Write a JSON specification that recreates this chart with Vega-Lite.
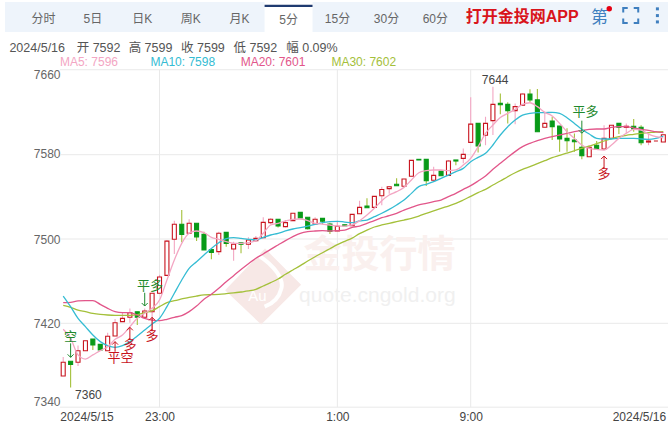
{"$schema":"https://vega.github.io/schema/vega-lite/v6.json","autosize":{"type":"fit","contains":"padding"},"width":669,"height":423,"padding":0,"background":"#ffffff","config":{"view":{"stroke":null},"font":"Liberation Sans, Noto Sans CJK SC","text":{"font":"Liberation Sans, Noto Sans CJK SC"}},
"datasets":{"k":[
{"i":0,"o":7370,"c":7383,"h":7388,"l":7370,"d":"u","m5":7414.3,"m10":7445.9,"m20":7439.6,"m30":7437.1},
{"i":1,"o":7384,"c":7381,"h":7384,"l":7359,"d":"d","m5":7405.8,"m10":7435.8,"m20":7439.9,"m30":7435.2},
{"i":2,"o":7383,"c":7394,"h":7399,"l":7379.5,"d":"u","m5":7390,"m10":7424.7,"m20":7441.2,"m30":7432.6},
{"i":3,"o":7394,"c":7403.5,"h":7403.5,"l":7394,"d":"u","m5":7386.1,"m10":7416.8,"m20":7441.5,"m30":7431.1},
{"i":4,"o":7405,"c":7399.4,"h":7405,"l":7394.7,"d":"d","m5":7390,"m10":7408.9,"m20":7441.5,"m30":7429.5},
{"i":5,"o":7400,"c":7394.7,"h":7400,"l":7394,"d":"d","m5":7394.1,"m10":7402.6,"m20":7438,"m30":7428.5},
{"i":6,"o":7394,"c":7407.7,"h":7411,"l":7394,"d":"u","m5":7397.8,"m10":7398.8,"m20":7434.2,"m30":7427.9},
{"i":7,"o":7408,"c":7420.6,"h":7424,"l":7408,"d":"u","m5":7404.8,"m10":7397.2,"m20":7431.1,"m30":7427.6},
{"i":8,"o":7421.6,"c":7424.7,"h":7430,"l":7421.6,"d":"u","m5":7408.9,"m10":7398.8,"m20":7430.1,"m30":7427.6},
{"i":9,"o":7425.7,"c":7430,"h":7434,"l":7420.6,"d":"u","m5":7416.8,"m10":7402.6,"m20":7430.1,"m30":7427.6},
{"i":10,"o":7431,"c":7425.7,"h":7431,"l":7418.4,"d":"d","m5":7424.7,"m10":7408,"m20":7427.9,"m30":7428.2},
{"i":11,"o":7425.7,"c":7431.7,"h":7434,"l":7424.7,"d":"u","m5":7429.5,"m10":7413.7,"m20":7424.7,"m30":7430.1},
{"i":12,"o":7431,"c":7448.5,"h":7448.5,"l":7412,"d":"u","m5":7434.2,"m10":7419.4,"m20":7423.1,"m30":7432},
{"i":13,"o":7448.5,"c":7464,"h":7466,"l":7448.5,"d":"u","m5":7442.1,"m10":7424.7,"m20":7422.5,"m30":7435.8},
{"i":14,"o":7465.5,"c":7498,"h":7499,"l":7465.5,"d":"u","m5":7461.1,"m10":7435.8,"m20":7423.8,"m30":7439.6},
{"i":15,"o":7499.7,"c":7514,"h":7517.4,"l":7485.8,"d":"u","m5":7480.1,"m10":7448.5,"m20":7425.7,"m30":7441.5},
{"i":16,"o":7514,"c":7504.4,"h":7527.5,"l":7497,"d":"d","m5":7495.9,"m10":7461.1,"m20":7427.3,"m30":7443.1},
{"i":17,"o":7505.4,"c":7515,"h":7518.7,"l":7505.4,"d":"u","m5":7505.4,"m10":7472.2,"m20":7431.1,"m30":7444.7},
{"i":18,"o":7515,"c":7502,"h":7515,"l":7498,"d":"d","m5":7507.6,"m10":7478.5,"m20":7436.4,"m30":7445.9},
{"i":19,"o":7504.4,"c":7489.6,"h":7507,"l":7489.6,"d":"d","m5":7506,"m10":7484.8,"m20":7442.8,"m30":7446.9},
{"i":20,"o":7490,"c":7487.3,"h":7490,"l":7480.7,"d":"d","m5":7501.6,"m10":7491.1,"m20":7447.5,"m30":7447.2},
{"i":21,"o":7488,"c":7505.4,"h":7507,"l":7484.8,"d":"u","m5":7499.7,"m10":7496.5,"m20":7453.2,"m30":7447.5},
{"i":22,"o":7506.3,"c":7495.9,"h":7506.3,"l":7492.7,"d":"d","m5":7497.5,"m10":7500.3,"m20":7459.5,"m30":7448.1},
{"i":23,"o":7490.5,"c":7495,"h":7497.5,"l":7479.4,"d":"u","m5":7495.9,"m10":7501.3,"m20":7465.2,"m30":7448.8},
{"i":24,"o":7496.5,"c":7495,"h":7496.5,"l":7486.4,"d":"d","m5":7495.9,"m10":7500.6,"m20":7471,"m30":7449.7},
{"i":25,"o":7495,"c":7499,"h":7501.6,"l":7490.5,"d":"u","m5":7496.5,"m10":7499.7,"m20":7476.5,"m30":7450.7},
{"i":26,"o":7498.4,"c":7500.6,"h":7502.8,"l":7497.5,"d":"u","m5":7498.4,"m10":7499.1,"m20":7481.7,"m30":7452.2},
{"i":27,"o":7501.3,"c":7515.8,"h":7520.6,"l":7500.6,"d":"u","m5":7505.4,"m10":7501.6,"m20":7485.8,"m30":7455.4},
{"i":28,"o":7515.5,"c":7518.7,"h":7519.6,"l":7514,"d":"u","m5":7513.3,"m10":7503.8,"m20":7490.2,"m30":7458.6},
{"i":29,"o":7518.7,"c":7512.3,"h":7518.7,"l":7511,"d":"d","m5":7514.9,"m10":7505.4,"m20":7494.3,"m30":7462},
{"i":30,"o":7511.7,"c":7515.5,"h":7518,"l":7511,"d":"u","m5":7517.1,"m10":7507.6,"m20":7498.4,"m30":7466.5},
{"i":31,"o":7517.4,"c":7524.4,"h":7524.4,"l":7517.4,"d":"u","m5":7518.7,"m10":7509.5,"m20":7502.2,"m30":7470.6},
{"i":32,"o":7525.3,"c":7520,"h":7525.3,"l":7520,"d":"d","m5":7519,"m10":7510.8,"m20":7505.4,"m30":7474.7},
{"i":33,"o":7520.6,"c":7509.8,"h":7520.6,"l":7509,"d":"d","m5":7517.4,"m10":7512.3,"m20":7507,"m30":7479.1},
{"i":34,"o":7514.2,"c":7518.7,"h":7520.6,"l":7514.2,"d":"u","m5":7514.9,"m10":7513.9,"m20":7507.6,"m30":7483.2},
{"i":35,"o":7519.6,"c":7516.8,"h":7519.6,"l":7514,"d":"d","m5":7514.2,"m10":7515.5,"m20":7507.9,"m30":7487},
{"i":36,"o":7514.2,"c":7507.3,"h":7515.5,"l":7504.7,"d":"d","m5":7513.3,"m10":7516.4,"m20":7507.6,"m30":7490.8},
{"i":37,"o":7507.6,"c":7512,"h":7517.4,"l":7507.6,"d":"u","m5":7512.3,"m10":7516.8,"m20":7507.9,"m30":7494.6},
{"i":38,"o":7513.5,"c":7512.5,"h":7513.5,"l":7512.5,"d":"d","m5":7512.3,"m10":7516.1,"m20":7508.5,"m30":7497.8},
{"i":39,"o":7512.6,"c":7523.4,"h":7523.4,"l":7512.6,"d":"u","m5":7513.3,"m10":7515.5,"m20":7511,"m30":7500.9},
{"i":40,"o":7524,"c":7530,"h":7536.4,"l":7524,"d":"u","m5":7517.4,"m10":7517.1,"m20":7512.3,"m30":7505.1},
{"i":41,"o":7531.3,"c":7529.7,"h":7538.6,"l":7529.7,"d":"d","m5":7522.8,"m10":7518,"m20":7514.9,"m30":7508.5},
{"i":42,"o":7530,"c":7540.5,"h":7540.5,"l":7530,"d":"u","m5":7529.1,"m10":7521.2,"m20":7517.4,"m30":7511.4},
{"i":43,"o":7541,"c":7547,"h":7549.6,"l":7532,"d":"u","m5":7536.4,"m10":7524.4,"m20":7520.2,"m30":7513.3},
{"i":44,"o":7547.8,"c":7549.6,"h":7550,"l":7543,"d":"u","m5":7541.7,"m10":7528.1,"m20":7522.1,"m30":7514.9},
{"i":45,"o":7551.9,"c":7550.6,"h":7557.6,"l":7550.6,"d":"d","m5":7544.9,"m10":7532.3,"m20":7524.4,"m30":7516.4},
{"i":46,"o":7550,"c":7557,"h":7557,"l":7550,"d":"u","m5":7549,"m10":7537,"m20":7527.5,"m30":7518},
{"i":47,"o":7559.5,"c":7574.6,"h":7574.6,"l":7559.5,"d":"u","m5":7556,"m10":7543.3,"m20":7530,"m30":7519.6},
{"i":48,"o":7575.6,"c":7575,"h":7575.6,"l":7575,"d":"d","m5":7562.9,"m10":7549.7,"m20":7532.3,"m30":7521.8},
{"i":49,"o":7575.6,"c":7555.3,"h":7575.6,"l":7550.3,"d":"d","m5":7564.8,"m10":7551.9,"m20":7533.8,"m30":7524.4},
{"i":50,"o":7555.7,"c":7560.4,"h":7568.6,"l":7555.7,"d":"u","m5":7565.5,"m10":7554.4,"m20":7535.4,"m30":7526.6},
{"i":51,"o":7564.5,"c":7560,"h":7564.5,"l":7560,"d":"d","m5":7565.5,"m10":7557.6,"m20":7537,"m30":7529.1},
{"i":52,"o":7560.4,"c":7574,"h":7575,"l":7560.4,"d":"u","m5":7564.8,"m10":7560.7,"m20":7540.2,"m30":7531.3},
{"i":53,"o":7575,"c":7574,"h":7575,"l":7570,"d":"d","m5":7565.5,"m10":7563.9,"m20":7543.3,"m30":7533.8},
{"i":54,"o":7576.5,"c":7580.3,"h":7586,"l":7571.8,"d":"u","m5":7570.2,"m10":7567,"m20":7547.1,"m30":7537},
{"i":55,"o":7591.7,"c":7609,"h":7634.4,"l":7591.7,"d":"u","m5":7576.5,"m10":7573.4,"m20":7550.6,"m30":7540.5},
{"i":56,"o":7609.7,"c":7588.2,"h":7609.7,"l":7582,"d":"d","m5":7587.6,"m10":7577.5,"m20":7555,"m30":7544},
{"i":57,"o":7598.4,"c":7609.7,"h":7616,"l":7589,"d":"u","m5":7600.3,"m10":7581.3,"m20":7559.8,"m30":7547.1},
{"i":58,"o":7612.3,"c":7627.8,"h":7644.5,"l":7598.7,"d":"u","m5":7608.2,"m10":7589.2,"m20":7566.1,"m30":7551.2},
{"i":59,"o":7628.7,"c":7627.4,"h":7638,"l":7618.3,"d":"d","m5":7615.4,"m10":7598.7,"m20":7571.8,"m30":7555},
{"i":60,"o":7627.8,"c":7621.8,"h":7629.7,"l":7609.7,"d":"d","m5":7619.2,"m10":7606.6,"m20":7577.5,"m30":7559.1},
{"i":61,"o":7621.8,"c":7625.6,"h":7628.7,"l":7609,"d":"u","m5":7623,"m10":7612.9,"m20":7582.9,"m30":7562.9},
{"i":62,"o":7627,"c":7637.6,"h":7638,"l":7626.4,"d":"u","m5":7627.8,"m10":7617.6,"m20":7587.6,"m30":7566.1},
{"i":63,"o":7637.6,"c":7632,"h":7642,"l":7630,"d":"d","m5":7629.3,"m10":7619.2,"m20":7590.8,"m30":7568.6},
{"i":64,"o":7632,"c":7601.8,"h":7642.3,"l":7601.8,"d":"d","m5":7625.6,"m10":7619.9,"m20":7593.3,"m30":7571.5},
{"i":65,"o":7606,"c":7609.7,"h":7620.8,"l":7606,"d":"u","m5":7620.2,"m10":7619.9,"m20":7595.5,"m30":7574.3},
{"i":66,"o":7612,"c":7606.6,"h":7616,"l":7594,"d":"d","m5":7616.7,"m10":7620.2,"m20":7597.1,"m30":7577.2},
{"i":67,"o":7607.2,"c":7594.9,"h":7607.2,"l":7582.9,"d":"d","m5":7609.7,"m10":7619.2,"m20":7598.7,"m30":7579.4},
{"i":68,"o":7595.5,"c":7593.3,"h":7605,"l":7582.9,"d":"d","m5":7601.8,"m10":7615.1,"m20":7600.3,"m30":7581.6},
{"i":69,"o":7594,"c":7592.3,"h":7600,"l":7582.9,"d":"d","m5":7595.5,"m10":7609.7,"m20":7601.8,"m30":7583.8},
{"i":70,"o":7587,"c":7579,"h":7600,"l":7575.6,"d":"d","m5":7589.2,"m10":7604,"m20":7603.1,"m30":7586},
{"i":71,"o":7578,"c":7587,"h":7589,"l":7578,"d":"u","m5":7586,"m10":7599.6,"m20":7604,"m30":7588.2},
{"i":72,"o":7589,"c":7585.4,"h":7593,"l":7584.4,"d":"d","m5":7585,"m10":7595.5,"m20":7604.4,"m30":7590.4},
{"i":73,"o":7585.4,"c":7595.5,"h":7608,"l":7584.4,"d":"u","m5":7584.4,"m10":7594.9,"m20":7604.4,"m30":7593},
{"i":74,"o":7595.5,"c":7608,"h":7608,"l":7595.5,"d":"u","m5":7589.2,"m10":7594.9,"m20":7605.9,"m30":7595.2},
{"i":75,"o":7609.7,"c":7606,"h":7609.7,"l":7599.6,"d":"d","m5":7595.5,"m10":7595.5,"m20":7606.6,"m30":7597.1},
{"i":76,"o":7606,"c":7607,"h":7609.7,"l":7600,"d":"u","m5":7600.3,"m10":7595.5,"m20":7606.6,"m30":7598.4},
{"i":77,"o":7607,"c":7604.4,"h":7613.9,"l":7601.8,"d":"d","m5":7604,"m10":7595.5,"m20":7605.3,"m30":7599.3},
{"i":78,"o":7606,"c":7591.4,"h":7608,"l":7589,"d":"d","m5":7603.4,"m10":7594.9,"m20":7604,"m30":7600.3},
{"i":79,"o":7592,"c":7593,"h":7600,"l":7589,"d":"u","m5":7599.6,"m10":7594.6,"m20":7603.1,"m30":7600.9},
{"i":80,"o":7593,"c":7593,"h":7593,"l":7593,"d":"u","m5":7597.1,"m10":7595.5,"m20":7601.8,"m30":7601.5},
{"i":81,"o":7592,"c":7599,"h":7599,"l":7592,"d":"u","m5":7596,"m10":7597.7,"m20":7600.9,"m30":7601.8}
]},
"layer":[
{"data":{"values":[{"a":-7.86,"b":81.63,"p":7724.9,"q":7696.4}]},"mark":{"type":"rect","color":"#eef4fb"},"encoding":{"x":{"field":"a","type":"quantitative","scale":{"domain":[-8.531,81.63],"nice":false,"zero":false,"padding":0},"axis":{"title":null,"values":[3.15,13,37,55,77.7],"labelExpr":"datum.value==13?'23:00':datum.value==37?'1:00':datum.value==55?'9:00':datum.value<10?'2024/5/15':'2024/5/16'","grid":false,"domain":false,"ticks":false,"labelPadding":-6.5,"labelBaseline":"middle","labelColor":"#444444","labelFontSize":12,"labelFlush":false,"labelOverlap":false}},"x2":{"field":"b"},"y":{"field":"p","type":"quantitative","scale":{"domain":[7325.4,7726.8],"nice":false,"zero":false,"padding":0},"axis":{"title":null,"values":[7340,7420,7500,7580,7660],"grid":false,"domain":false,"ticks":false,"labelPadding":-60,"labelAlign":"right","labelColor":"#666666","labelFontSize":12,"labelFlush":false,"labelOverlap":false,"format":"d","labelOffset":{"expr":"datum.value==7660?4:datum.value==7340?-6:datum.value==7580?-1:0"}}},"y2":{"field":"q"}}},
{"data":{"values":[{"a":27.18,"b":33.65,"p":7724.9,"q":7696.4}]},"mark":{"type":"rect","color":"#ffffff"},"encoding":{"x":{"field":"a","type":"quantitative"},"x2":{"field":"b"},"y":{"field":"p","type":"quantitative"},"y2":{"field":"q"}}},
{"data":{"values":[{"a":27.18,"b":33.65,"p":7722.3,"q":7720.2}]},"mark":{"type":"rect","color":"#1f3a70"},"encoding":{"x":{"field":"a","type":"quantitative"},"x2":{"field":"b"},"y":{"field":"p","type":"quantitative"},"y2":{"field":"q"}}},
{"data":{"values":[{"i":-2.67,"p":7708.8,"t":"分时"},{"i":4,"p":7708.8,"t":"5日"},{"i":10.67,"p":7708.8,"t":"日K"},{"i":17.21,"p":7708.8,"t":"周K"},{"i":23.81,"p":7708.8,"t":"月K"},{"i":30.42,"p":7708.2,"t":"5分"},{"i":37.02,"p":7708.8,"t":"15分"},{"i":43.63,"p":7708.8,"t":"30分"},{"i":50.23,"p":7708.8,"t":"60分"}]},"mark":{"type":"text","fontSize":12,"color":"#666666"},"encoding":{"x":{"field":"i","type":"quantitative"},"y":{"field":"p","type":"quantitative"},"text":{"field":"t"}}},
{"data":{"values":[{"i":61.95,"p":7710.6,"t":"打开金投网APP"}]},"mark":{"type":"text","fontSize":16,"fontWeight":"bold","color":"#d9141b"},"encoding":{"x":{"field":"i","type":"quantitative"},"y":{"field":"p","type":"quantitative"},"text":{"field":"t"}}},
{"data":{"values":[{"i":72.4,"p":7709.7,"t":"第"}]},"mark":{"type":"text","fontSize":17,"color":"#3f7fbf"},"encoding":{"x":{"field":"i","type":"quantitative"},"y":{"field":"p","type":"quantitative"},"text":{"field":"t"}}},
{"data":{"values":[{"i":73.7,"p":7718.6}]},"mark":{"type":"point","shape":"circle","filled":true,"size":30,"color":"#e60012","opacity":1},"encoding":{"x":{"field":"i","type":"quantitative"},"y":{"field":"p","type":"quantitative"}}},
{"data":{"values":[{"i":76.6,"p":7712}]},"mark":{"type":"point","shape":"M-1,-0.4V-1H-0.4M0.4,-1H1V-0.4M1,0.4V1H0.4M-0.4,1H-1V0.4","filled":false,"size":225,"strokeWidth":2,"color":"#3f7fbf","opacity":1},"encoding":{"x":{"field":"i","type":"quantitative"},"y":{"field":"p","type":"quantitative"}}},
{"data":{"values":[{"i":80.2,"p":7718.4},{"i":80.2,"p":7712},{"i":80.2,"p":7706}]},"mark":{"type":"point","shape":"square","filled":true,"size":9,"color":"#3f7fbf","opacity":1},"encoding":{"x":{"field":"i","type":"quantitative"},"y":{"field":"p","type":"quantitative"}}},
{"data":{"values":[{"i":-7.26,"p":7681.5,"t":"2024/5/16"},{"i":1.82,"p":7681.5,"t":"开 7592"},{"i":8.83,"p":7681.5,"t":"高 7599"},{"i":15.9,"p":7681.5,"t":"收 7599"},{"i":22.98,"p":7681.5,"t":"低 7592"},{"i":30.1,"p":7681.5,"t":"幅 0.09%"}]},"mark":{"type":"text","align":"left","fontSize":12.5,"color":"#555555"},"encoding":{"x":{"field":"i","type":"quantitative"},"y":{"field":"p","type":"quantitative"},"text":{"field":"t"}}},
{"data":{"values":[{"i":-0.44,"p":7667.5,"t":"MA5: 7596","n":"a"},{"i":11.77,"p":7667.5,"t":"MA10: 7598","n":"b"},{"i":23.95,"p":7667.5,"t":"MA20: 7601","n":"c"},{"i":36.2,"p":7667.5,"t":"MA30: 7602","n":"d"}]},"mark":{"type":"text","align":"left","fontSize":12},"encoding":{"x":{"field":"i","type":"quantitative"},"y":{"field":"p","type":"quantitative"},"text":{"field":"t"},"color":{"field":"n","type":"nominal","legend":null,"scale":{"domain":["a","b","c","d"],"range":["#f3a6c3","#35bcd3","#e2568a","#a4c03a"]}}}},
{"data":{"values":[{"a":-0.44,"b":81.63,"p":7660.6},{"a":-0.44,"b":81.63,"p":7580},{"a":-0.44,"b":81.63,"p":7500},{"a":-0.44,"b":81.63,"p":7420},{"a":-0.44,"b":81.63,"p":7340.4}]},"mark":{"type":"rule","color":"#e9e9e9","strokeWidth":1},"encoding":{"x":{"field":"a","type":"quantitative"},"x2":{"field":"b"},"y":{"field":"p","type":"quantitative"}}},
{"data":{"values":[{"i":13,"p":7660.6,"q":7340.4},{"i":37,"p":7660.6,"q":7340.4},{"i":55,"p":7660.6,"q":7340.4}]},"mark":{"type":"rule","color":"#e9e9e9","strokeWidth":1},"encoding":{"x":{"field":"i","type":"quantitative"},"y":{"field":"p","type":"quantitative"},"y2":{"field":"q"}}},
{"data":{"values":[{"i":26.98,"p":7454.9}]},"mark":{"type":"point","shape":"M-1,0.1L0.05,-1L1,-0.05L-0.05,1Z","filled":true,"size":5776,"color":"#f7e8e6","opacity":1},"encoding":{"x":{"field":"i","type":"quantitative"},"y":{"field":"p","type":"quantitative"}}},
{"data":{"values":[{"i":26.98,"p":7454.9}]},"mark":{"type":"point","shape":"M-0.14,-0.83C0.3,-0.55 0.55,-0.2 0.48,0.05C0.42,0.3 0.25,0.45 0.04,0.53","filled":false,"size":5776,"strokeWidth":4,"color":"#ffffff","opacity":1},"encoding":{"x":{"field":"i","type":"quantitative"},"y":{"field":"p","type":"quantitative"}}},
{"data":{"values":[{"i":26.2,"p":7446,"t":"Au"}]},"mark":{"type":"text","fontSize":15,"color":"#ffffff"},"encoding":{"x":{"field":"i","type":"quantitative"},"y":{"field":"p","type":"quantitative"},"text":{"field":"t"}}},
{"data":{"values":[{"i":42.7,"p":7483.7,"t":"金投行情"}]},"mark":{"type":"text","fontSize":38,"fontWeight":"bold","color":"#faf0ee"},"encoding":{"x":{"field":"i","type":"quantitative"},"y":{"field":"p","type":"quantitative"},"text":{"field":"t"}}},
{"data":{"values":[{"i":42.4,"p":7445.6,"t":"quote.cngold.org"}]},"mark":{"type":"text","fontSize":21,"color":"#f0f0f0"},"encoding":{"x":{"field":"i","type":"quantitative"},"y":{"field":"p","type":"quantitative"},"text":{"field":"t"}}},
{"data":{"name":"k"},"mark":{"type":"rule","strokeWidth":1.1},"encoding":{"x":{"field":"i","type":"quantitative"},"y":{"field":"l","type":"quantitative"},"y2":{"field":"h"},"color":{"field":"d","type":"nominal","legend":null,"scale":{"domain":["u","d"],"range":["#c8141e","#089a18"]}}}},
{"data":{"name":"k"},"mark":{"type":"bar","size":4,"strokeWidth":1.1,"orient":"vertical"},"encoding":{"x":{"field":"i","type":"quantitative"},"y":{"field":"o","type":"quantitative"},"y2":{"field":"c"},"stroke":{"field":"d","type":"nominal","legend":null,"scale":{"domain":["u","d"],"range":["#c8141e","#089a18"]}},"fill":{"field":"d","type":"nominal","legend":null,"scale":{"domain":["u","d"],"range":["#ffffff","#089a18"]}}}},
{"data":{"name":"k"},"mark":{"type":"line","color":"#a4c03a","strokeWidth":1.3,"interpolate":"monotone"},"encoding":{"x":{"field":"i","type":"quantitative"},"y":{"field":"m30","type":"quantitative"}}},
{"data":{"name":"k"},"mark":{"type":"line","color":"#e2568a","strokeWidth":1.3,"interpolate":"monotone"},"encoding":{"x":{"field":"i","type":"quantitative"},"y":{"field":"m20","type":"quantitative"}}},
{"data":{"name":"k"},"mark":{"type":"line","color":"#35bcd3","strokeWidth":1.3,"interpolate":"monotone"},"encoding":{"x":{"field":"i","type":"quantitative"},"y":{"field":"m10","type":"quantitative"}}},
{"data":{"name":"k"},"mark":{"type":"line","color":"#f3a6c3","strokeWidth":1.3,"interpolate":"monotone"},"encoding":{"x":{"field":"i","type":"quantitative"},"y":{"field":"m5","type":"quantitative"}}},
{"data":{"values":[{"i":58.3,"p":7650.9,"t":"7644"},{"i":3.4,"p":7352,"t":"7360"}]},"mark":{"type":"text","fontSize":12,"color":"#444444"},"encoding":{"x":{"field":"i","type":"quantitative"},"y":{"field":"p","type":"quantitative"},"text":{"field":"t"}}},
{"data":{"values":[{"i":1,"p":7401,"q":7387.7},{"i":11,"p":7449,"q":7436.4},{"i":70,"p":7612.3,"q":7600.3}]},"mark":{"type":"rule","color":"#1f8a2e","strokeWidth":1},"encoding":{"x":{"field":"i","type":"quantitative"},"y":{"field":"p","type":"quantitative"},"y2":{"field":"q"}}},
{"data":{"values":[{"i":1,"q":7387.7},{"i":11,"q":7436.4},{"i":70,"q":7600.3}]},"mark":{"type":"point","shape":"M-1,-1L0,0L1,-1","filled":false,"size":36,"strokeWidth":1,"color":"#1f8a2e","opacity":1},"encoding":{"x":{"field":"i","type":"quantitative"},"y":{"field":"q","type":"quantitative"}}},
{"data":{"values":[{"i":7,"p":7393,"q":7402.6},{"i":9,"p":7404.2,"q":7416.2},{"i":12,"p":7413,"q":7425.7},{"i":73,"p":7567,"q":7578.7}]},"mark":{"type":"rule","color":"#c8141e","strokeWidth":1},"encoding":{"x":{"field":"i","type":"quantitative"},"y":{"field":"p","type":"quantitative"},"y2":{"field":"q"}}},
{"data":{"values":[{"i":7,"q":7402.6},{"i":9,"q":7416.2},{"i":12,"q":7425.7},{"i":73,"q":7578.7}]},"mark":{"type":"point","shape":"M-1,1L0,0L1,1","filled":false,"size":36,"strokeWidth":1,"color":"#c8141e","opacity":1},"encoding":{"x":{"field":"i","type":"quantitative"},"y":{"field":"q","type":"quantitative"}}},
{"data":{"values":[{"i":1,"p":7406.7,"t":"空"},{"i":11.73,"p":7455.7,"t":"平多"},{"i":70.5,"p":7620.2,"t":"平多"}]},"mark":{"type":"text","fontSize":13,"color":"#1f8a2e"},"encoding":{"x":{"field":"i","type":"quantitative"},"y":{"field":"p","type":"quantitative"},"text":{"field":"t"}}},
{"data":{"values":[{"i":7.73,"p":7386.8,"t":"平空"},{"i":9,"p":7399.4,"t":"多"},{"i":12,"p":7408,"t":"多"},{"i":73,"p":7561.7,"t":"多"}]},"mark":{"type":"text","fontSize":13,"color":"#c8141e"},"encoding":{"x":{"field":"i","type":"quantitative"},"y":{"field":"p","type":"quantitative"},"text":{"field":"t"}}}
]}
